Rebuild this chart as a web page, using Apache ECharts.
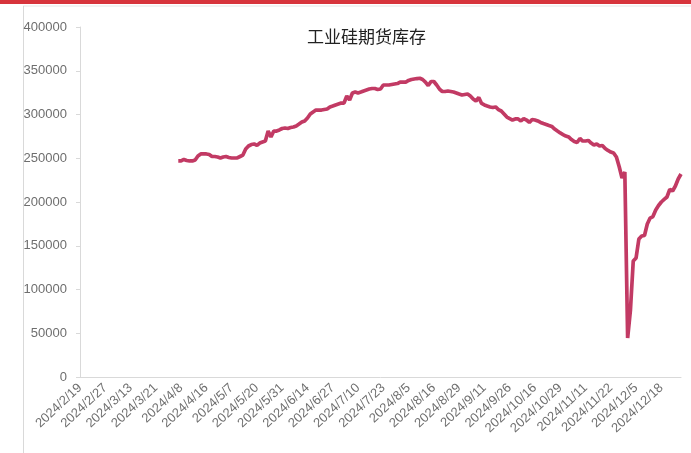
<!DOCTYPE html>
<html>
<head>
<meta charset="utf-8">
<script src="https://cdn.jsdelivr.net/npm/echarts@6/dist/echarts.min.js"></script>
<style>
  html, body { margin: 0; padding: 0; background: #fff; }
  #chartmain { width: 691px; height: 453px; }
</style>
</head>
<body>
<div id="chartmain"></div>
<script>
// tick labels on the category axis, one every 9 trading days
var tickLabels = [
  '2024/2/19', '2024/2/27', '2024/3/13', '2024/3/21', '2024/4/8', '2024/4/16',
  '2024/5/7', '2024/5/20', '2024/5/31', '2024/6/14', '2024/6/27', '2024/7/10',
  '2024/7/23', '2024/8/5', '2024/8/16', '2024/8/29', '2024/9/11', '2024/9/26',
  '2024/10/16', '2024/10/29', '2024/11/11', '2024/11/22', '2024/12/5', '2024/12/18'
];
var labelStep = 9;
var totalDays = 215;
var firstDataDay = 35;

// 工业硅期货库存
var stockValues = [
  246900, 246900, 248600, 247400, 246900, 246900, 248000, 252600, 254900, 254900,
  254900, 254300, 252000, 252000, 251400, 250300, 251400, 252000, 250900, 250300,
  250300, 250300, 252000, 253700, 260600, 264000, 265700, 266300, 264600, 267400,
  268600, 269700, 281100, 274300, 281100, 281100, 282300, 284000, 284600, 284000,
  285100, 285700, 286900, 289100, 291400, 292600, 296000, 300600, 302900, 305100,
  305100, 305100, 305700, 306300, 308600, 309700, 310900, 312000, 313100, 313100,
  321100, 316600, 324600, 325700, 324600, 325700, 326900, 328000, 329100, 329700,
  329700, 328600, 329100, 333700, 333700, 333700, 334300, 334900, 335400, 337100,
  337100, 337100, 338900, 340000, 340600, 341100, 341400, 340000, 337100, 333100,
  337700, 337700, 333700, 329100, 326300, 326300, 326900, 326300, 325700, 324600,
  323400, 322300, 322900, 323400, 321100, 317700, 315400, 319400, 312600, 310900,
  309700, 308600, 308000, 308600, 305700, 304000, 300600, 297100, 295400, 293700,
  294900, 294900, 292600, 295400, 293700, 290900, 294300, 293700, 292600, 290900,
  289700, 288600, 287400, 286300, 283400, 281100, 278900, 277100, 275400, 274300,
  271400, 269100, 268000, 272600, 269700, 269700, 270300, 267400, 265100, 266300,
  264000, 264600, 261100, 258900, 257100, 256000, 251400, 240300, 227400, 234300,
  44600, 76600, 132600, 136000, 157700, 161100, 161700, 174900, 181700, 183400,
  190900, 196000, 200000, 202900, 205700, 214300, 212600, 218300, 226300, 232000
];

var categories = [];
for (var i = 0; i < totalDays; i++) {
  categories.push(i % labelStep === 0 ? (tickLabels[i / labelStep] || '') : '');
}
var seriesData = [];
for (var j = 0; j < totalDays; j++) {
  var k = j - firstDataDay;
  seriesData.push(k >= 0 && k < stockValues.length ? stockValues[k] : null);
}

var chart = echarts.init(document.getElementById('chartmain'), null, { renderer: 'canvas' });
chart.setOption({
  animation: false,
  backgroundColor: '#fff',
  title: {
    text: '工业硅期货库存',
    left: 302,
    top: 23,
    textStyle: { fontFamily: 'Noto Sans CJK SC', fontSize: 17, fontWeight: 'normal', color: '#222' }
  },
  graphic: [
    { type: 'rect', shape: { x: 0, y: 0, width: 691, height: 4 }, style: { fill: '#d7343c' }, silent: true },
    { type: 'line', shape: { x1: 23, y1: 6, x2: 691, y2: 6 }, style: { stroke: '#e6e6e6', lineWidth: 1 }, silent: true },
    { type: 'line', shape: { x1: 23.5, y1: 6, x2: 23.5, y2: 453 }, style: { stroke: '#d9d9d9', lineWidth: 1 }, silent: true }
  ],
  grid: { left: 80, right: 10, top: 27, bottom: 76, containLabel: false },
  xAxis: {
    type: 'category',
    data: categories,
    boundaryGap: false,
    axisLine: { lineStyle: { color: '#d9d9d9', width: 1 } },
    axisTick: { show: false },
    axisLabel: {
      interval: 0,
      rotate: 43,
      margin: 9,
      fontFamily: 'Liberation Sans',
      fontSize: 13,
      color: '#6e6e6e'
    },
    splitLine: { show: false }
  },
  yAxis: {
    type: 'value',
    min: 0,
    max: 400000,
    interval: 50000,
    axisLine: { show: true, lineStyle: { color: '#d9d9d9', width: 1 } },
    axisTick: { show: true, length: 4, lineStyle: { color: '#d9d9d9' } },
    axisLabel: {
      margin: 13,
      fontFamily: 'Liberation Sans',
      fontSize: 13,
      color: '#6e6e6e',
      formatter: function (v) { return String(v); }
    },
    splitLine: { show: false }
  },
  series: [{
    name: '工业硅期货库存',
    type: 'line',
    data: seriesData,
    showSymbol: false,
    connectNulls: false,
    lineStyle: { color: '#c23a64', width: 3.7 },
    itemStyle: { color: '#c23a64' }
  }]
});
</script>
</body>
</html>
